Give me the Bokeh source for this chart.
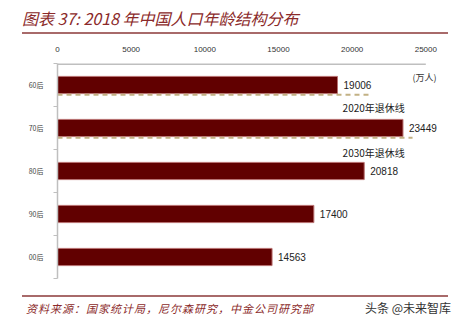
from bokeh.plotting import figure
from bokeh.models import Div, FixedTicker, Range1d, ColumnDataSource
from bokeh.layouts import column
from bokeh.core.properties import value
from bokeh.embed import file_html
from bokeh.resources import INLINE

categories = ["60后", "70后", "80后", "90后", "00后"]
population = [19006, 23449, 20818, 17400, 14563]
x_ticks = [0, 5000, 10000, 15000, 20000, 25000]
axis_max = 25000
retire_labels = ["2020年退休线", "2030年退休线"]
retire_ends = [21300, 24100]
unit_label = "(万人)"
title_text = "图表 37: 2018 年中国人口年龄结构分布"
source_text = "资料来源：国家统计局，尼尔森研究，中金公司研究部"
brand_text = "头条 @未来智库"

n = len(categories)
ypos = [n - i - 0.5 for i in range(n)]
CJK = "Noto Sans CJK SC"

title_div = Div(
    text=(f"<div style=\"position:relative;width:458px;height:40px;\">"
          f"<div style=\"position:absolute;left:22px;top:9px;font-family:'{CJK}';font-style:italic;"
          f"font-size:16px;line-height:18px;color:#8B2A2A;white-space:nowrap;\">{title_text}</div>"
          f"<div style=\"position:absolute;left:22px;top:32px;width:426px;height:2px;background:#A86A6A;\"></div>"
          f"</div>"),
    width=458, height=40, margin=0)

# frame extends past 25000 so the labels at the right are not clipped
p = figure(width=458, height=250, output_backend="svg", toolbar_location=None,
           x_range=Range1d(0, 27150), y_range=Range1d(0, n),
           x_axis_location="above", min_border_left=57, min_border_right=1,
           min_border_top=23, min_border_bottom=12)
p.outline_line_color = None
p.grid.grid_line_color = None
p.background_fill_color = "white"

# top axis line, only up to 25000
p.segment(x0=[0], y0=[n], x1=[axis_max], y1=[n], line_color="#BFBFBF", line_width=3)

src = ColumnDataSource(dict(y=ypos, v=population, t=[str(v) for v in population]))
p.hbar(y="y", right="v", left=0, height=0.4, source=src,
       fill_color="#610000", line_color="#B87070", line_width=1)
p.text(x="v", y="y", text="t", source=src, x_offset=6, text_baseline="middle",
       text_font=value("Liberation Sans"), text_font_size="10px", text_color="#222222")

# retirement dashed lines (under 60后 and 70后 bars)
ry = [ypos[0] - 0.225, ypos[1] - 0.225]
p.segment(x0=[0, 0], y0=ry, x1=retire_ends, y1=ry, line_color="#C2B184",
          line_width=2, line_dash="5 4")
p.text(x=[19350, 19350], y=[ypos[0] - 0.52, ypos[1] - 0.58], text=retire_labels,
       text_baseline="middle", text_font=value(CJK), text_font_size="10px",
       text_color="#222222")
p.text(x=[24100], y=[ypos[0] + 0.17], text=[unit_label], text_baseline="middle",
       text_font=value(CJK), text_font_size="9px", text_color="#333333")

xa = p.xaxis[0]
xa.ticker = FixedTicker(ticks=x_ticks)
xa.axis_line_color = None
xa.major_tick_line_color = None
xa.minor_tick_line_color = None
xa.major_label_text_font = "Liberation Sans"
xa.major_label_text_font_size = "8px"
xa.major_label_text_color = "#333333"
xa.major_label_standoff = 6

ya = p.yaxis[0]
ya.ticker = FixedTicker(ticks=ypos, minor_ticks=list(range(n + 1)))
ya.major_label_overrides = {y: c for y, c in zip(ypos, categories)}
ya.axis_line_color = "#BFBFBF"
ya.axis_line_width = 1.5
ya.major_tick_line_color = None
ya.minor_tick_line_color = "#BFBFBF"
ya.minor_tick_out = 4
ya.minor_tick_in = 0
ya.major_label_text_font = CJK
ya.major_label_text_font_size = "7px"
ya.major_label_text_color = "#444444"
ya.major_label_standoff = 8

footer_div = Div(
    text=(f"<div style=\"position:relative;width:458px;height:33px;\">"
          f"<div style=\"position:absolute;left:22px;top:5px;width:426px;height:2px;background:#A86A6A;\"></div>"
          f"<div style=\"position:absolute;left:26px;top:11px;font-family:'{CJK}';font-style:italic;"
          f"font-size:11px;line-height:14px;letter-spacing:1px;color:#8B2A2A;white-space:nowrap;\">{source_text}</div>"
          f"<div style=\"position:absolute;left:365px;top:10px;font-family:'{CJK}';"
          f"font-size:12px;line-height:15px;color:#333333;white-space:nowrap;\">{brand_text}</div>"
          f"</div>"),
    width=458, height=33, margin=0)

layout = column(title_div, p, footer_div, spacing=0, margin=0)
open("out.html", "w").write(file_html(layout, INLINE))
